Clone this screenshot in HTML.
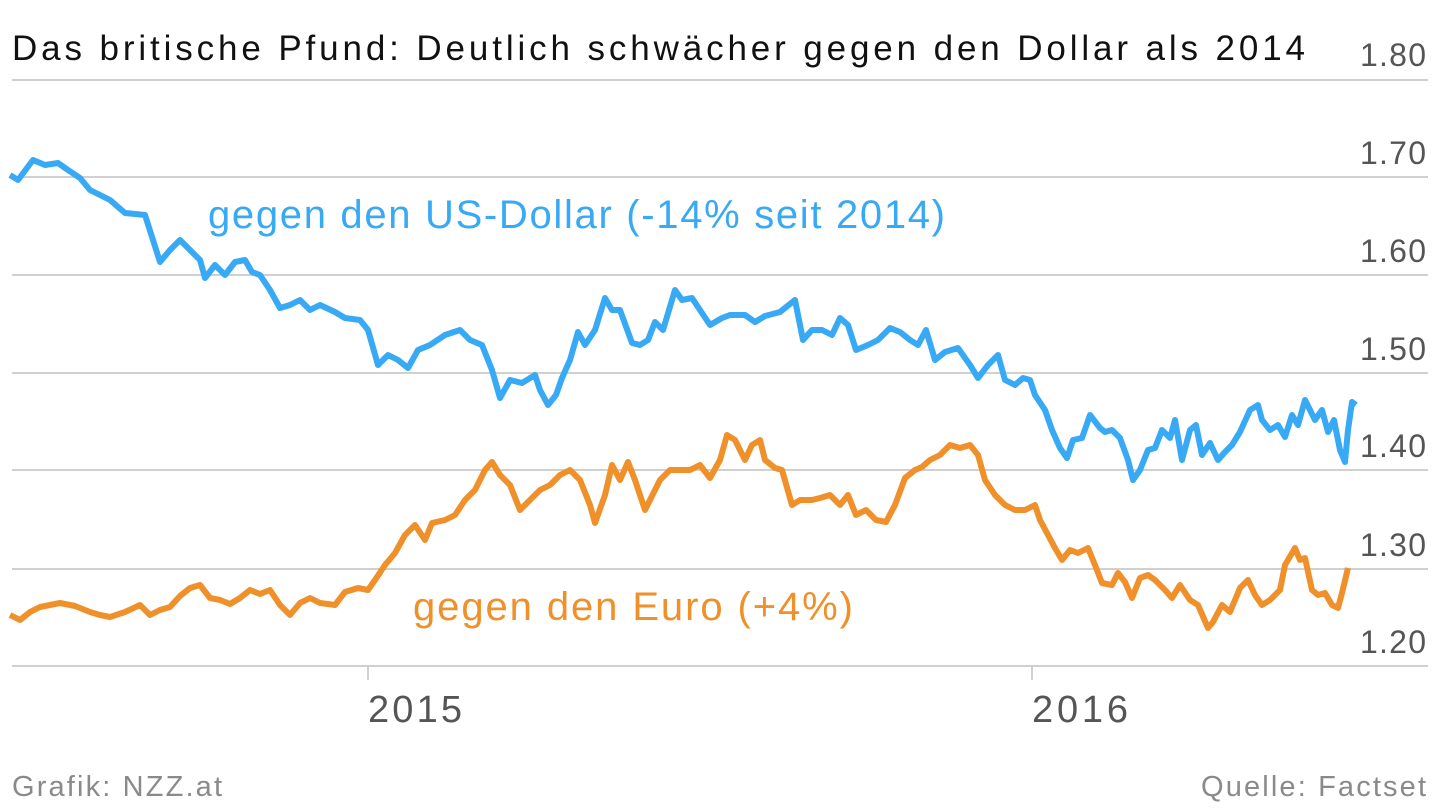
<!DOCTYPE html>
<html><head><meta charset="utf-8"><style>
html,body{margin:0;padding:0;background:#fff;}
svg{display:block;}
text{font-family:"Liberation Sans",sans-serif;}
</style></head><body>
<svg width="1440" height="811" viewBox="0 0 1440 811" xmlns="http://www.w3.org/2000/svg">
<g stroke="#d0d0d0" stroke-width="2">
<line x1="12" y1="80" x2="1428" y2="80"/>
<line x1="12" y1="177" x2="1428" y2="177"/>
<line x1="12" y1="275" x2="1428" y2="275"/>
<line x1="12" y1="373" x2="1428" y2="373"/>
<line x1="12" y1="470" x2="1428" y2="470"/>
<line x1="12" y1="569" x2="1428" y2="569"/>
<line x1="12" y1="666" x2="1428" y2="666"/>
<line x1="368" y1="666" x2="368" y2="680"/>
<line x1="1032" y1="666" x2="1032" y2="680"/>
</g>
<g fill="#555" font-size="32" text-anchor="end">
<text x="1426" y="66" textLength="66">1.80</text>
<text x="1426" y="164" textLength="66">1.70</text>
<text x="1426" y="262" textLength="66">1.60</text>
<text x="1426" y="360" textLength="66">1.50</text>
<text x="1426" y="457" textLength="66">1.40</text>
<text x="1426" y="556" textLength="66">1.30</text>
<text x="1426" y="653" textLength="66">1.20</text>
</g>
<g fill="#555" font-size="38">
<text x="368" y="722" textLength="94">2015</text>
<text x="1032" y="722" textLength="96">2016</text>
</g>
<text x="12" y="60" font-size="35" fill="#111" textLength="1293">Das britische Pfund: Deutlich schwächer gegen den Dollar als 2014</text>
<polyline fill="none" stroke="#38a9f5" stroke-width="6" stroke-linejoin="round" points="10,175 18,180 33,160 45,165 58,163 68,170 80,178 90,190 100,195 110,200 125,213 145,215 160,262 170,250 180,240 190,250 200,260 205,278 215,265 225,275 235,262 245,260 252,272 260,275 270,290 280,308 290,305 300,300 310,310 320,305 335,312 345,318 360,320 368,330 378,365 388,355 398,360 408,368 418,350 430,345 445,335 460,330 470,340 482,345 492,370 500,398 510,380 522,383 535,375 540,390 548,405 556,395 562,378 570,360 578,332 585,345 595,330 605,298 612,310 620,310 632,343 640,345 648,340 655,322 663,330 675,290 682,300 692,298 700,310 710,325 722,318 730,315 745,315 755,322 765,316 780,312 795,300 803,340 812,330 822,330 832,335 840,318 848,325 856,350 868,345 878,340 890,328 900,332 910,340 918,345 926,330 935,360 945,352 958,348 970,365 978,378 988,365 998,355 1005,380 1015,385 1023,378 1030,380 1035,395 1045,410 1052,430 1060,448 1067,458 1073,440 1082,438 1090,415 1100,428 1105,432 1112,430 1120,438 1128,460 1133,480 1140,470 1148,450 1155,448 1162,430 1170,438 1175,420 1182,460 1190,430 1196,425 1202,455 1210,443 1218,460 1225,452 1232,445 1240,432 1250,410 1258,405 1262,420 1270,430 1278,425 1285,437 1292,415 1298,425 1305,400 1315,420 1322,410 1328,432 1334,420 1340,450 1345,462 1348,430 1352,402 1356,405"/>
<polyline fill="none" stroke="#f0902a" stroke-width="6" stroke-linejoin="round" points="10,615 20,620 30,612 40,607 50,605 60,603 75,606 90,612 100,615 110,617 125,612 140,605 150,615 160,610 170,607 180,596 190,588 200,585 210,598 220,600 230,604 240,598 250,590 260,594 270,590 280,605 290,615 300,603 310,598 320,603 335,605 345,592 358,588 368,590 375,580 385,565 395,553 405,535 415,525 425,540 432,523 445,520 455,515 465,500 475,490 485,470 492,462 500,475 510,485 520,510 530,500 540,490 550,485 560,475 570,470 580,480 590,505 595,523 605,495 612,465 620,480 628,462 635,480 645,510 650,500 660,480 670,470 680,470 690,470 700,465 710,478 720,460 727,435 735,440 745,460 752,445 760,440 765,460 775,468 782,470 792,505 800,500 812,500 820,498 830,495 840,505 848,495 856,515 866,510 876,520 886,522 895,505 905,478 915,470 922,467 930,460 940,455 950,445 960,448 970,445 978,455 985,480 995,495 1005,505 1015,510 1025,510 1035,505 1040,520 1048,535 1055,548 1062,560 1070,550 1078,553 1088,548 1095,565 1102,583 1112,585 1118,573 1125,582 1132,598 1140,578 1148,575 1155,580 1165,590 1172,598 1180,585 1190,600 1198,605 1208,628 1213,622 1222,605 1230,612 1240,588 1248,580 1255,595 1262,605 1270,600 1280,590 1285,565 1295,548 1300,560 1305,558 1312,590 1318,595 1325,593 1332,605 1338,608 1342,593 1348,568"/>
<text x="208" y="228" font-size="40" fill="#38a9f5" textLength="737">gegen den US-Dollar (-14% seit 2014)</text>
<text x="413" y="620" font-size="40" fill="#f0902a" textLength="440">gegen den Euro (+4%)</text>
<text x="12" y="796" font-size="29" fill="#8a8a8a" textLength="210">Grafik: NZZ.at</text>
<text x="1426" y="796" font-size="29" fill="#8a8a8a" text-anchor="end" textLength="225">Quelle: Factset</text>
</svg>
</body></html>
